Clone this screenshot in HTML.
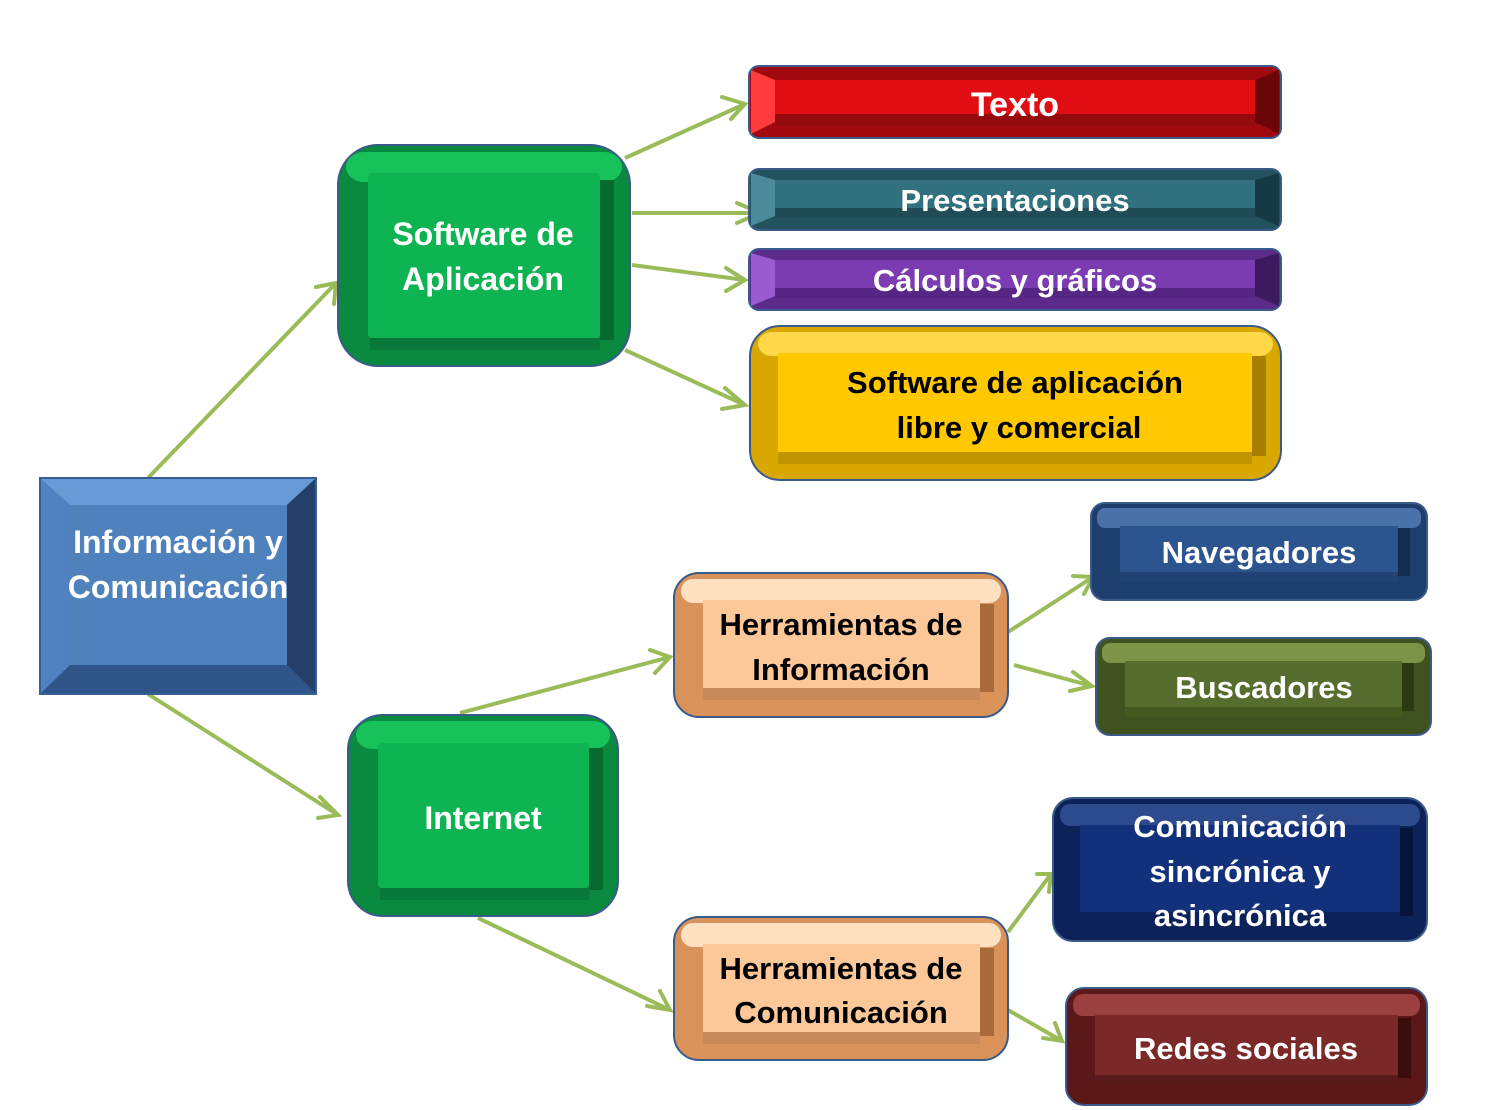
<!DOCTYPE html>
<html><head><meta charset="utf-8"><style>
html,body{margin:0;padding:0;background:#fff;}
svg{display:block}
text{font-family:"Liberation Sans",sans-serif;font-weight:bold;text-anchor:middle;}
</style></head><body>
<svg width="1500" height="1110" viewBox="0 0 1500 1110" xmlns="http://www.w3.org/2000/svg">
<g stroke="#9bbb59" stroke-width="4" fill="none">
<path d="M148,478 L336,283"/>
<path d="M148,694 L338,815"/>
<path d="M625,158 L745,104"/>
<path d="M632,213 L760,213"/>
<path d="M632,265 L745,280"/>
<path d="M625,350 L745,405"/>
<path d="M460,713 L670,657"/>
<path d="M478,918 L670,1010"/>
<path d="M1008,632 L1093,577"/>
<path d="M1014,665 L1092,686"/>
<path d="M1008,932 L1051,874"/>
<path d="M1008,1010 L1062,1041"/>
</g>
<g stroke="#9bbb59" stroke-width="4" fill="none" stroke-linecap="round">
<path d="M722,97 L745,104 L731,119"/>
<path d="M316,287 L336,283 L334,304"/>
<path d="M320,797 L338,815 L318,818"/>
<path d="M737,203 L760,213 L737,223"/>
<path d="M726,268 L745,280 L726,291"/>
<path d="M725,388 L745,405 L722,409"/>
<path d="M650,650 L670,657 L655,673"/>
<path d="M647,1006 L670,1010 L660,991"/>
<path d="M1073,576 L1093,577 L1084,594"/>
<path d="M1073,672 L1092,686 L1070,691"/>
<path d="M1037,874 L1051,874 L1049,892"/>
<path d="M1043,1038 L1062,1041 L1055,1023"/>
</g>

<rect x="40" y="478" width="276" height="216" fill="#3e6aa5" stroke="#365f94" stroke-width="2"/>
<polygon points="41,479 315,479 287,505 70,505" fill="#6a9ad6"/>
<polygon points="315,479 315,693 287,665 287,505" fill="#24406a"/>
<polygon points="41,693 315,693 287,665 70,665" fill="#2f5488"/>
<polygon points="41,479 41,693 70,665 70,505" fill="#5082c2"/>
<rect x="70" y="505" width="217" height="160" fill="#4f81bd"/>
<text x="178" y="553" font-size="32" fill="#fff">Información  y</text>
<text x="178" y="598" font-size="32" fill="#fff">Comunicación</text>

<rect x="338" y="145" width="292" height="221" rx="40" fill="#0a8a3e" stroke="#3a5a8a" stroke-width="2"/>
<rect x="346" y="152" width="276" height="30" rx="18" fill="#18c25a"/>
<rect x="368" y="173" width="232" height="165" rx="4" fill="#0fb452"/>
<rect x="600" y="180" width="14" height="160" fill="#076a2e"/>
<rect x="370" y="338" width="230" height="12" fill="#08783a"/>
<text x="483" y="245" font-size="32" fill="#fff">Software de</text>
<text x="483" y="290" font-size="32" fill="#fff">Aplicación</text>

<rect x="749" y="66" width="532" height="72" rx="10" fill="#a00a0f" stroke="#3a5a8a" stroke-width="2"/>
<rect x="775" y="80" width="480" height="42" fill="#e00d12"/>
<polygon points="751,70 775,80 775,122 751,134" fill="#ff3b3b"/>
<polygon points="1279,70 1255,80 1255,122 1279,134" fill="#6a0508"/>
<rect x="775" y="114" width="480" height="12" fill="#950a0d"/>
<text x="1015" y="116" font-size="34" fill="#fff">Texto</text>

<rect x="749" y="169" width="532" height="61" rx="10" fill="#23525f" stroke="#3a5a8a" stroke-width="2"/>
<rect x="775" y="180" width="480" height="36" fill="#31707f"/>
<polygon points="751,173 775,180 775,216 751,226" fill="#4a8a9a"/>
<polygon points="1279,173 1255,180 1255,216 1279,226" fill="#163a44"/>
<rect x="775" y="208" width="480" height="10" fill="#204c58"/>
<text x="1015" y="211" font-size="31" fill="#fff">Presentaciones</text>

<rect x="749" y="249" width="532" height="61" rx="10" fill="#5a2b88" stroke="#3a5a8a" stroke-width="2"/>
<rect x="775" y="260" width="480" height="36" fill="#7a3cb0"/>
<polygon points="751,253 775,260 775,296 751,306" fill="#9a5ad0"/>
<polygon points="1279,253 1255,260 1255,296 1279,306" fill="#3c1a5e"/>
<rect x="775" y="288" width="480" height="10" fill="#552683"/>
<text x="1015" y="291" font-size="31" fill="#fff">Cálculos y gráficos</text>

<rect x="750" y="326" width="531" height="154" rx="30" fill="#d9a800" stroke="#3a5a8a" stroke-width="2"/>
<rect x="758" y="332" width="515" height="24" rx="14" fill="#ffd84a"/>
<rect x="778" y="353" width="474" height="102" fill="#ffc800"/>
<rect x="1252" y="356" width="14" height="100" fill="#a87f00"/>
<rect x="778" y="452" width="474" height="12" fill="#c09300"/>
<text x="1015" y="393" font-size="31" fill="#000">Software de aplicación</text>
<text x="1019" y="438" font-size="31" fill="#000">libre y comercial</text>

<rect x="348" y="715" width="270" height="201" rx="35" fill="#0a8a3e" stroke="#3a5a8a" stroke-width="2"/>
<rect x="356" y="721" width="254" height="28" rx="16" fill="#18c25a"/>
<rect x="378" y="743" width="211" height="145" rx="4" fill="#0fb452"/>
<rect x="589" y="748" width="14" height="142" fill="#076a2e"/>
<rect x="380" y="888" width="209" height="12" fill="#08783a"/>
<text x="483" y="829" font-size="32" fill="#fff">Internet</text>

<rect x="674" y="573" width="334" height="144" rx="25" fill="#d9935a" stroke="#3a5a8a" stroke-width="2"/>
<rect x="681" y="579" width="320" height="24" rx="12" fill="#ffe0c0"/>
<rect x="703" y="600" width="277" height="90" fill="#fcc89a"/>
<rect x="980" y="604" width="14" height="88" fill="#a86a3a"/>
<rect x="703" y="688" width="277" height="12" fill="#c88a5a"/>
<text x="841" y="635" font-size="31" fill="#000">Herramientas de</text>
<text x="841" y="680" font-size="31" fill="#000">Información</text>

<rect x="674" y="917" width="334" height="143" rx="25" fill="#d9935a" stroke="#3a5a8a" stroke-width="2"/>
<rect x="681" y="923" width="320" height="24" rx="12" fill="#ffe0c0"/>
<rect x="703" y="944" width="277" height="90" fill="#fcc89a"/>
<rect x="980" y="948" width="14" height="88" fill="#a86a3a"/>
<rect x="703" y="1032" width="277" height="12" fill="#c88a5a"/>
<text x="841" y="979" font-size="31" fill="#000">Herramientas de</text>
<text x="841" y="1023" font-size="31" fill="#000">Comunicación</text>

<rect x="1091" y="503" width="336" height="97" rx="14" fill="#1e3f6e" stroke="#3a5a8a" stroke-width="2"/>
<rect x="1097" y="508" width="324" height="20" rx="8" fill="#4a72a8"/>
<rect x="1120" y="526" width="278" height="48" fill="#2c5590"/>
<rect x="1398" y="528" width="12" height="48" fill="#142c50"/>
<rect x="1120" y="572" width="278" height="10" fill="#214272"/>
<text x="1259" y="563" font-size="31" fill="#fff">Navegadores</text>

<rect x="1096" y="638" width="335" height="97" rx="14" fill="#3f5220" stroke="#3a5a8a" stroke-width="2"/>
<rect x="1102" y="643" width="323" height="20" rx="8" fill="#7d9446"/>
<rect x="1125" y="661" width="277" height="48" fill="#566d2e"/>
<rect x="1402" y="663" width="12" height="48" fill="#2c3a14"/>
<rect x="1125" y="707" width="277" height="10" fill="#44581f"/>
<text x="1264" y="698" font-size="31" fill="#fff">Buscadores</text>

<rect x="1053" y="798" width="374" height="143" rx="20" fill="#0c2258" stroke="#3a5a8a" stroke-width="2"/>
<rect x="1060" y="804" width="360" height="22" rx="10" fill="#2c4a8c"/>
<rect x="1080" y="825" width="320" height="90" fill="#13307a"/>
<rect x="1400" y="828" width="13" height="88" fill="#06143a"/>
<rect x="1080" y="912" width="320" height="10" fill="#0c2258"/>
<text x="1240" y="837" font-size="31" fill="#fff">Comunicación</text>
<text x="1240" y="882" font-size="31" fill="#fff">sincrónica y</text>
<text x="1240" y="926" font-size="31" fill="#fff">asincrónica</text>

<rect x="1066" y="988" width="361" height="117" rx="18" fill="#5a1818" stroke="#3a5a8a" stroke-width="2"/>
<rect x="1073" y="994" width="347" height="22" rx="10" fill="#9a4040"/>
<rect x="1095" y="1015" width="303" height="62" fill="#7a2828"/>
<rect x="1398" y="1018" width="13" height="60" fill="#3a0c0c"/>
<rect x="1095" y="1075" width="303" height="10" fill="#581a1a"/>
<text x="1246" y="1059" font-size="31" fill="#fff">Redes sociales</text>
</svg>
</body></html>
